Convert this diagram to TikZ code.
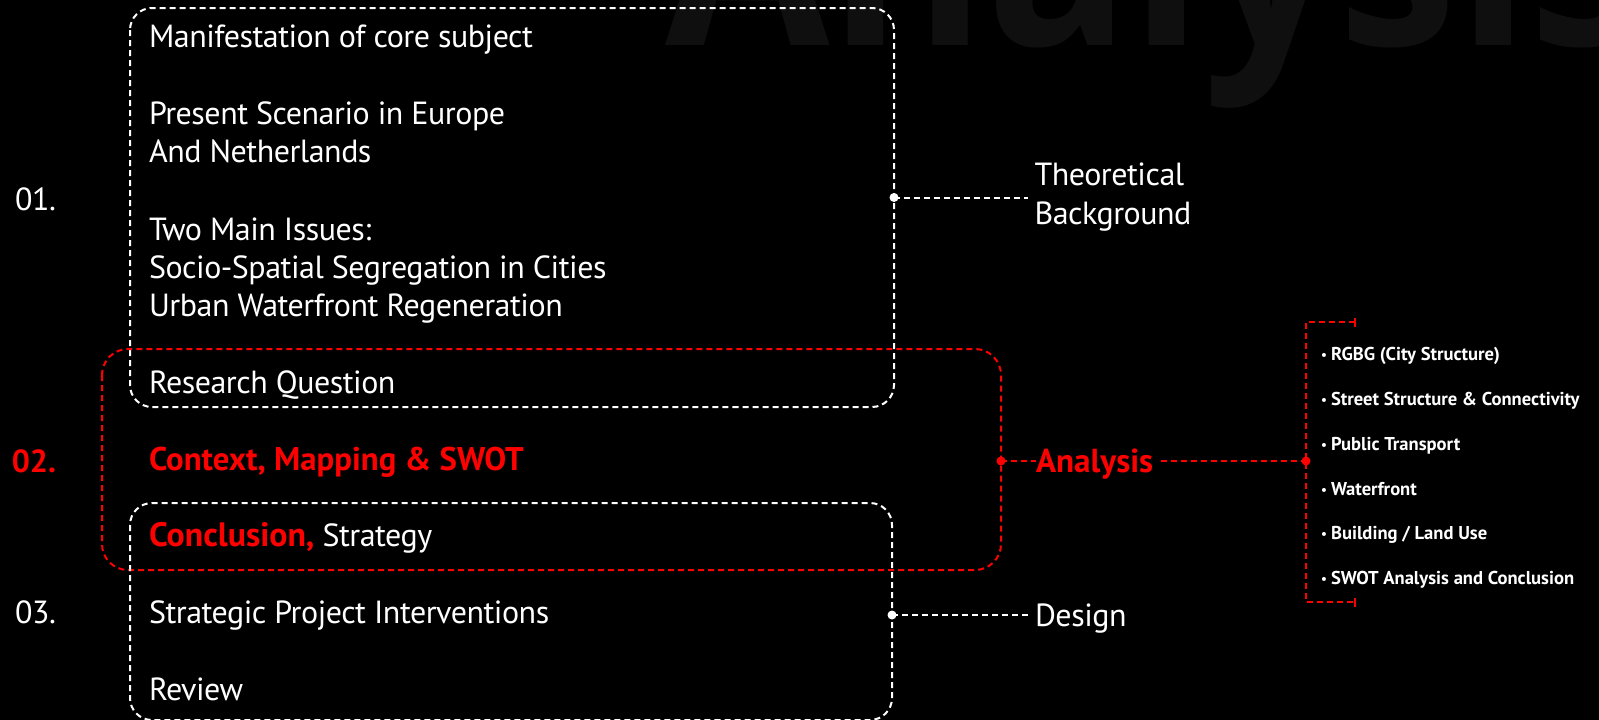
\documentclass[tikz,border=0pt]{standalone}
\usepackage{fontspec}
\setmainfont[LetterSpace=-1.5,BoldFeatures={LetterSpace=0}]{PT Sans}
\newfontfamily\ghostfont{Open Sans}
\definecolor{redx}{RGB}{255,0,0}
\definecolor{ghost}{RGB}{15,15,15}
\newcommand{\redbold}{\fontsize{33.2}{38}\selectfont\bfseries}
\tikzset{
  txt/.style={anchor=base west,inner sep=0pt,outer sep=0pt,text=white,font=\fontsize{32}{38}\selectfont},
  num/.style={anchor=base east,inner sep=0pt,outer sep=0pt,text=white,font=\fontsize{32}{38}\selectfont},
  redtxt/.style={txt,text=redx,font=\redbold},
  item/.style={anchor=base west,inner sep=0pt,outer sep=0pt,text=white,font=\fontsize{18.6}{20}\selectfont\bfseries},
  wline/.style={draw=white,line width=2pt,dash pattern=on 6pt off 4pt},
  rline/.style={draw=redx,line width=2pt,dash pattern=on 6pt off 4pt},
  dotw/.style={circle,fill=white,inner sep=0pt,minimum size=9pt},
  dotr/.style={circle,fill=redx,inner sep=0pt,minimum size=9pt}
}
\newcommand{\bul}{\makebox[10pt][l]{\fontsize{13}{13}\selectfont\raisebox{1pt}{•}}}
\begin{document}
\begin{tikzpicture}[x=1pt,y=-1pt]
\useasboundingbox (0,0) rectangle (1599,720);
\fill[black] (0,0) rectangle (1599,720);
\begin{scope}
\clip (0,0) rectangle (1599,720);
\node[anchor=base west,inner sep=0pt,text=ghost,xscale=0.91,font=\ghostfont\fontsize{262}{262}\selectfont\bfseries] (ghosttitle) at (665,45) {Analysis};
\end{scope}
% boxes
\draw[wline,rounded corners=22pt] (130,8) rectangle (894,407);
\draw[rline,rounded corners=26pt] (102,349) rectangle (1001,570);
\draw[wline,rounded corners=22pt] (130,503) rectangle (892,720);
% left text
\node[txt] (t1) at (149,47) {Manifestation of core subject};
\node[txt] (t2) at (149,124) {Present Scenario in Europe};
\node[txt] (t3) at (149,162) {And Netherlands};
\node[txt] (t4) at (149,240) {Two Main Issues:};
\node[txt] (t5) at (149,278.5) {Socio-Spatial Segregation in Cities};
\node[txt] (t6) at (149,316.5) {Urban Waterfront Regeneration};
\node[txt] (t7) at (149,393) {Research Question};
\node[redtxt,font=\fontsize{32.8}{38}\selectfont\bfseries] (t8) at (149,470) {Context, Mapping \& SWOT};
\node[txt] (t9) at (149,546) {\textcolor{redx}{\fontsize{33.8}{38}\selectfont\bfseries Conclusion,} Strategy};
\node[txt] (t10) at (149,623) {Strategic Project Interventions};
\node[txt] (t11) at (149,700) {Review};
% numbers
\node[num] (n1) at (56,210) {01.};
\node[num,text=redx,font=\fontsize{32}{38}\selectfont\bfseries] (n2) at (56,472) {02.};
\node[num] (n3) at (56,623) {03.};
% right labels
\node[txt] (theo) at (1034.5,185) {Theoretical};
\node[txt] (back) at (1034.5,224) {Background};
\node[redtxt] (ana) at (1036,472) {Analysis};
\node[txt] (des) at (1035,626) {Design};
% connector points
\node[dotw] (d1) at (894,197.5) {};
\node[dotw] (d2) at (892,615) {};
\node[dotr] (d3) at (1001,461) {};
\node[dotr] (d4) at (1306,461) {};
\coordinate (c1) at (1028,197.5);
\coordinate (c2) at (1028,615);
\coordinate (c3) at (1036,461);
\coordinate (c4) at (1161,461);
\coordinate (bt) at (1355,322);
\coordinate (bb) at (1355,602);
\draw[wline] (d1.center) -- (c1);
\draw[wline] (d2.center) -- (c2);
\draw[rline] (d3.center) -- (c3);
\draw[rline] (c4) -- (d4.center);
\draw[rline] (bt) -- (bt -| d4) -- (bb -| d4) -- (bb);
\draw[draw=redx,line width=1.5pt] ([yshift=-4.5pt]bt) -- ([yshift=4.5pt]bt);
\draw[draw=redx,line width=1.5pt] ([yshift=-4.5pt]bb) -- ([yshift=4.5pt]bb);
% list
\node[item] (i1) at (1321,360) {\bul RGBG (City Structure)};
\node[item] (i2) at (1321,405) {\bul Street Structure \& Connectivity};
\node[item] (i3) at (1321,450) {\bul Public Transport};
\node[item] (i4) at (1321,495) {\bul Waterfront};
\node[item] (i5) at (1321,539) {\bul Building / Land Use};
\node[item] (i6) at (1321,584) {\bul SWOT Analysis and Conclusion};
\end{tikzpicture}
\end{document}
